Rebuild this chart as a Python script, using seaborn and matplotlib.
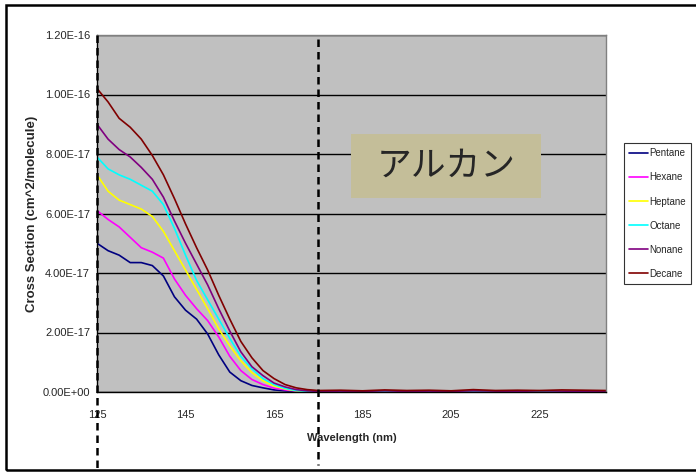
import numpy as np
import pandas as pd
import seaborn as sns
import matplotlib.pyplot as plt
from matplotlib.patches import Rectangle

sns.set_theme(style="white")
plt.rcParams['font.family'] = ['Liberation Sans', 'DejaVu Sans']

# wavelength grid (nm)
wavelength = [125, 127.5, 130, 132.5, 135, 137.5, 140, 142.5, 145, 147.5,
              150, 152.5, 155, 157.5, 160, 162.5, 165, 167.5, 170, 172.5,
              175, 180, 185, 190, 195, 200, 205, 210, 215, 220, 225, 230,
              235, 240]

# cross sections in units of 1e-17 cm^2/molecule
pentane = [5.0, 4.75, 4.6, 4.35, 4.35, 4.25, 3.9, 3.2, 2.75, 2.45,
           1.95, 1.25, 0.67, 0.38, 0.22, 0.14, 0.07, 0.04, 0.02, 0.01,
           0.01, 0.0, 0.01, 0.0, 0.01, 0.0, 0.0, 0.01, 0.0, 0.01, 0.0,
           0.01, 0.0, 0.01]
hexane = [6.1, 5.8, 5.55, 5.2, 4.85, 4.7, 4.5, 3.8, 3.25, 2.8,
          2.4, 1.85, 1.2, 0.72, 0.42, 0.25, 0.13, 0.07, 0.03, 0.02,
          0.01, 0.01, 0.0, 0.02, 0.0, 0.01, 0.01, 0.0, 0.02, 0.0, 0.01,
          0.0, 0.01, 0.0]
heptane = [7.3, 6.75, 6.45, 6.3, 6.15, 5.9, 5.4, 4.75, 4.1, 3.45,
           2.8, 2.12, 1.55, 1.05, 0.65, 0.38, 0.2, 0.1, 0.04, 0.02,
           0.01, 0.02, 0.01, 0.0, 0.02, 0.01, 0.02, 0.0, 0.01, 0.02, 0.0,
           0.02, 0.01, 0.02]
octane = [7.9, 7.5, 7.3, 7.15, 6.95, 6.75, 6.3, 5.5, 4.6, 3.75,
          3.1, 2.45, 1.8, 1.2, 0.78, 0.45, 0.25, 0.12, 0.05, 0.02,
          0.01, 0.01, 0.02, 0.01, 0.0, 0.02, 0.01, 0.01, 0.0, 0.02, 0.01,
          0.0, 0.02, 0.01]
nonane = [9.0, 8.5, 8.15, 7.9, 7.55, 7.15, 6.55, 5.75, 5.0, 4.3,
          3.6, 2.8, 2.05, 1.35, 0.85, 0.55, 0.3, 0.17, 0.08, 0.04,
          0.02, 0.03, 0.02, 0.04, 0.02, 0.03, 0.02, 0.04, 0.03, 0.02, 0.04,
          0.03, 0.02, 0.03]
decane = [10.2, 9.75, 9.2, 8.9, 8.5, 7.95, 7.3, 6.5, 5.65, 4.85,
          4.1, 3.25, 2.45, 1.7, 1.15, 0.72, 0.45, 0.25, 0.14, 0.08,
          0.05, 0.06, 0.04, 0.07, 0.05, 0.06, 0.04, 0.08, 0.05, 0.06, 0.05,
          0.07, 0.06, 0.05]

series_names = ['Pentane', 'Hexane', 'Heptane', 'Octane', 'Nonane', 'Decane']
series_values = [pentane, hexane, heptane, octane, nonane, decane]
series_colors = ['#000080', '#FF00FF', '#FFFF00', '#00FFFF', '#800080', '#800000']

y_ticks = [0, 2e-17, 4e-17, 6e-17, 8e-17, 1e-16, 1.2e-16]
x_ticks = [125, 145, 165, 185, 205, 225]

frames = []
for name, vals in zip(series_names, series_values):
    frames.append(pd.DataFrame({'wavelength': wavelength,
                                'cross_section': np.array(vals) * 1e-17,
                                'alkane': name}))
df = pd.concat(frames)

fig = plt.figure(figsize=(6.96, 4.72), dpi=100)
ax = fig.add_axes([97 / 696, 80 / 472, 509 / 696, 357 / 472])
ax.set_facecolor('#C0C0C0')

sns.lineplot(data=df, x='wavelength', y='cross_section', hue='alkane',
             palette=dict(zip(series_names, series_colors)), estimator=None,
             linewidth=1.2, ax=ax)

ax.set_xlim(125, 240)
ax.set_ylim(0, 1.2e-16)
ax.set_yticks(y_ticks)
ax.set_yticklabels(['{:.2E}'.format(v) for v in y_ticks], fontsize=8)
ax.set_xticks(x_ticks)
ax.set_xticklabels([str(v) for v in x_ticks], fontsize=8)
ax.tick_params(axis='y', direction='out', length=3, width=0.8, color='black', pad=2)
ax.tick_params(axis='x', direction='out', length=4, width=0.8, color='black', pad=9)
ax.yaxis.grid(True, color='black', linewidth=1)
ax.xaxis.grid(False)
ax.set_axisbelow(True)

for side in ['top', 'right']:
    ax.spines[side].set_color('#808080')
    ax.spines[side].set_linewidth(1)
for side in ['left', 'bottom']:
    ax.spines[side].set_color('black')
    ax.spines[side].set_linewidth(1)

ax.set_xlabel('Wavelength (nm)', fontsize=8, fontweight='bold', labelpad=9)
ax.set_ylabel('Cross Section (cm^2/molecule)', fontsize=9.5, fontweight='bold', labelpad=3)

# dashed markers
ax.plot([125, 125], [1.2e-16, -0.218 * 1.2e-16], color='black', lw=1.8,
        ls=(0, (3, 2)), clip_on=False, zorder=5)
ax.plot([175, 175], [1.185e-16, -0.205 * 1.2e-16], color='black', lw=1.8,
        ls=(0, (3, 2)), clip_on=False, zorder=5)

# legend
handles, labels = ax.get_legend_handles_labels()
leg = ax.legend(handles, labels, loc='upper left',
                bbox_to_anchor=(624 / 696, (472 - 143) / 472),
                bbox_transform=fig.transFigure, borderaxespad=0,
                fontsize=7, handlelength=1.9, handletextpad=0.15,
                labelspacing=1.45, borderpad=0.55, fancybox=False,
                frameon=True)
leg.get_frame().set_edgecolor('black')
leg.get_frame().set_linewidth(0.8)
leg.get_frame().set_facecolor('white')
for line in leg.get_lines():
    line.set_linewidth(1.2)

# text box
fig.patches.append(Rectangle((351 / 696, (472 - 198) / 472), 190 / 696, 64 / 472,
                             transform=fig.transFigure, facecolor='#C4BE99',
                             edgecolor='none', zorder=3))
fig.text(446 / 696, (472 - 166) / 472, 'アルカン', fontsize=25,
         family=['Noto Sans CJK JP', 'DejaVu Sans'], ha='center', va='center',
         zorder=4)

# figure frame
fig.patches.append(Rectangle((6 / 696, 2 / 472), 700 / 696, 465 / 472,
                             transform=fig.transFigure, facecolor='none',
                             edgecolor='black', linewidth=1.8))

fig.savefig('out.png', dpi=100)
